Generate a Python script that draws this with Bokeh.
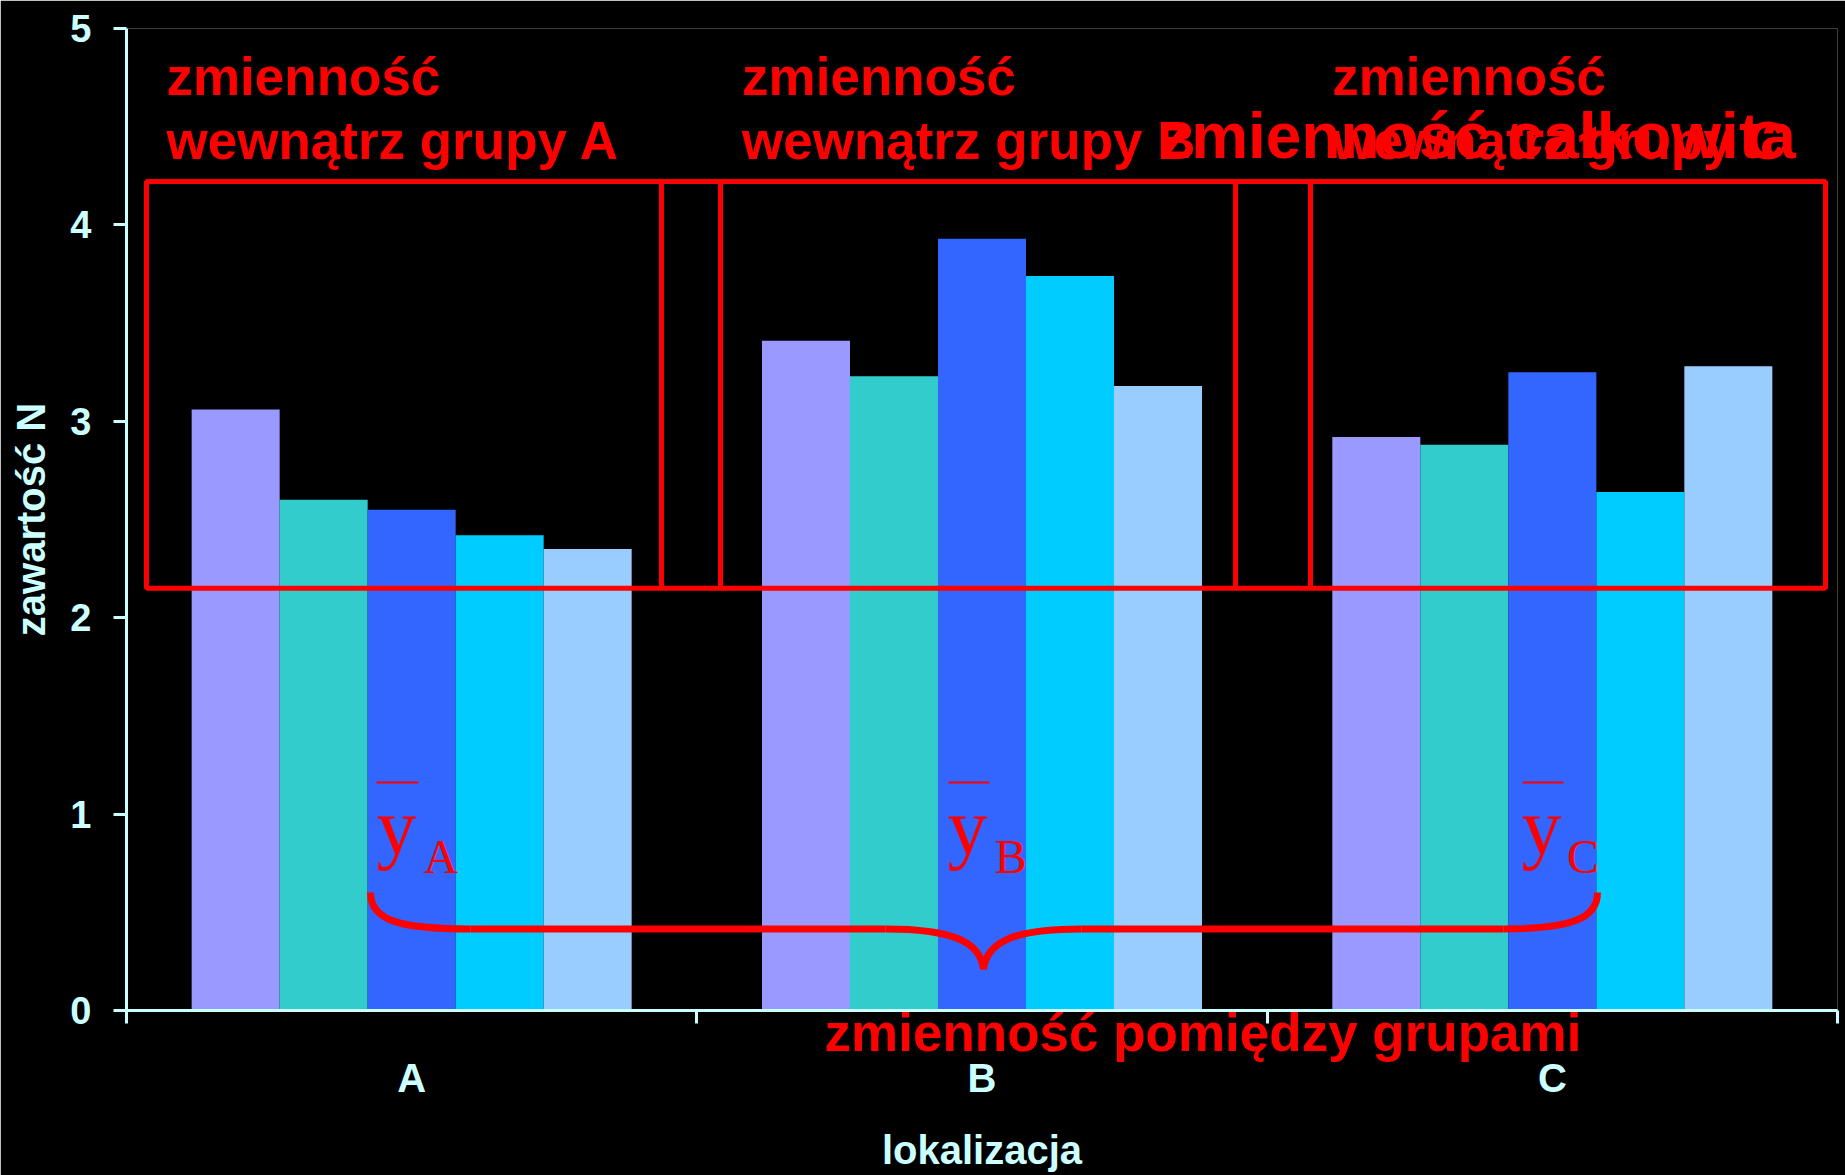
from bokeh.plotting import figure
from bokeh.models import (Range1d, LinearAxis, FixedTicker, Label, ColumnDataSource)
from bokeh.transform import dodge
from bokeh.embed import file_html
from bokeh.resources import INLINE

# ---- data ----
groups = ["A", "B", "C"]
s1 = [3.06, 3.41, 2.92]
s2 = [2.60, 3.23, 2.88]
s3 = [2.55, 3.93, 3.25]
s4 = [2.42, 3.74, 2.64]
s5 = [2.35, 3.18, 3.28]
series_colors = ["#9999FF", "#33CCCC", "#3366FF", "#00CCFF", "#99CCFF"]
y_ticks = [0, 1, 2, 3, 4, 5]

x_title = "lokalizacja"
y_title = "zawartość N"
within_line1 = "zmienność"
within_line2 = ["wewnątrz grupy A", "wewnątrz grupy B", "wewnątrz grupy C"]
total_text = "zmienność całkowita"
between_text = "zmienność pomiędzy grupami"
mean_subs = ["A", "B", "C"]

# annotation geometry (in axis units: x 0..3, y 0..5)
within_x = [0.0701, 1.0793, 2.114]
box_outer = (0.035, 2.979, 2.150, 4.221)
box_dividers = [0.938, 1.0415, 1.9445, 2.076]
mean_y_x = [0.4383, 1.4395, 2.4459]
mean_sub_x = [0.5207, 1.5225, 2.5255]
mean_bar = [(0.4383, 0.5120), (1.441, 1.513), (2.4477, 2.5196)]
between_center_x = 1.8875

RED = "#FF0000"
AX = "#CCFFFF"
FONT = "Liberation Sans"

centers = [i + 0.5 for i in range(len(groups))]
src = ColumnDataSource(dict(xc=centers, s1=s1, s2=s2, s3=s3, s4=s4, s5=s5))

p = figure(x_range=Range1d(0, len(groups)), y_range=Range1d(0, 5),
           frame_width=1711, frame_height=982,
           x_axis_location=None,
           output_backend="svg", toolbar_location=None,
           min_border_left=126, min_border_right=8,
           min_border_top=28, min_border_bottom=165,
           background_fill_color="black", border_fill_color="black",
           outline_line_color=None)
p.grid.grid_line_color = None

bw = 0.1543
offsets = [-2 * bw, -bw, 0, bw, 2 * bw]
for i, (col, c) in enumerate(zip(["s1", "s2", "s3", "s4", "s5"], series_colors)):
    p.vbar(x=dodge("xc", offsets[i]), top=col, width=bw,
           source=src, fill_color=c, line_color=None)

# y axis
ya = p.yaxis[0]
ya.ticker = FixedTicker(ticks=y_ticks)
ya.axis_label = y_title
ya.axis_label_text_font = FONT
ya.axis_label_text_font_style = "bold"
ya.axis_label_text_font_size = "40px"
ya.axis_label_text_color = AX
ya.axis_label_standoff = 14
ya.major_label_text_font = FONT
ya.major_label_text_font_style = "bold"
ya.major_label_text_font_size = "38px"
ya.major_label_text_color = AX
ya.major_label_standoff = 22
ya.major_tick_out = 13
ya.major_tick_in = 0
ya.minor_tick_line_color = None
ya.axis_line_color = AX
ya.axis_line_width = 3
ya.major_tick_line_color = AX
ya.major_tick_line_width = 3

# x axis: boundary ticks (minor) + the "between groups" caption as its label
tax = LinearAxis(ticker=FixedTicker(ticks=[between_center_x], minor_ticks=[0, 1, 2, 3]),
                 major_label_overrides={between_center_x: between_text},
                 major_tick_out=13, major_tick_in=0, major_tick_line_color=None,
                 minor_tick_out=13, minor_tick_in=0,
                 minor_tick_line_color=AX, minor_tick_line_width=3,
                 major_label_text_font=FONT, major_label_text_font_style="bold",
                 major_label_text_font_size="53px", major_label_text_color=RED,
                 major_label_standoff=-21,
                 axis_line_color=AX, axis_line_width=3)
p.add_layout(tax, "below")
cax = LinearAxis(ticker=FixedTicker(ticks=centers),
                 major_label_overrides={c: g for c, g in zip(centers, groups)},
                 axis_line_color=None, major_tick_line_color=None,
                 minor_tick_line_color=None,
                 major_tick_out=0, major_tick_in=0,
                 minor_tick_out=0, minor_tick_in=0,
                 major_label_standoff=-9,
                 major_label_text_font=FONT,
                 major_label_text_font_style="bold",
                 major_label_text_font_size="40px",
                 major_label_text_color=AX,
                 axis_label=x_title, axis_label_standoff=25,
                 axis_label_text_font=FONT,
                 axis_label_text_font_style="bold",
                 axis_label_text_font_size="40px",
                 axis_label_text_color=AX)
p.add_layout(cax, "below")

# red boxes
l, r, b, t = box_outer
p.quad(left=[l], right=[r], bottom=[b], top=[t], fill_color=None,
       line_color=RED, line_width=5)
p.segment(x0=box_dividers, x1=box_dividers, y0=[b] * 4, y1=[t] * 4,
          line_color=RED, line_width=5)

def lab(x, y, text, size, font=FONT, style="bold"):
    p.add_layout(Label(x=x, y=y, text=text,
                       text_font=font, text_font_style=style,
                       text_font_size=size, text_color=RED,
                       text_align="left", text_baseline="alphabetic"))

for i in range(3):
    lab(within_x[i], 4.756, within_line1, "53px")
    lab(within_x[i], 4.429, within_line2[i], "53px")
lab(1.8106, 4.451, total_text, "64px")

# group means  y-bar
for i in range(3):
    lab(mean_y_x[i], 0.935, "y", "80px", font="Liberation Serif", style="normal")
    lab(mean_sub_x[i], 0.784, mean_subs[i], "48px", font="Liberation Serif", style="normal")
p.segment(x0=[m[0] for m in mean_bar], x1=[m[1] for m in mean_bar],
          y0=[1.1614] * 3, y1=[1.1614] * 3, line_color=RED, line_width=2)

# brace
bz = dict(
    x0=[0.4278, 1.3308, 1.5026, 2.4144],
    y0=[0.6013, 0.4155, 0.2093, 0.4155],
    x1=[0.6032, 1.5026, 1.6745, 2.5792],
    y1=[0.4155, 0.2093, 0.4155, 0.6013],
    cx0=[0.4278, 1.4448, 1.5079, 2.5319],
    cy0=[0.4562, 0.4155, 0.3544, 0.4155],
    cx1=[0.4804, 1.4974, 1.5605, 2.5792],
    cy1=[0.4155, 0.3544, 0.4155, 0.4664],
)
p.bezier(source=ColumnDataSource(bz), x0="x0", y0="y0", x1="x1", y1="y1",
         cx0="cx0", cy0="cy0", cx1="cx1", cy1="cy1",
         line_color=RED, line_width=7)
p.segment(x0=[0.6032, 1.6745], x1=[1.3308, 2.4144], y0=[0.4155, 0.4155],
          y1=[0.4155, 0.4155], line_color=RED, line_width=7)

open("out.html", "w").write(file_html(p, INLINE))
